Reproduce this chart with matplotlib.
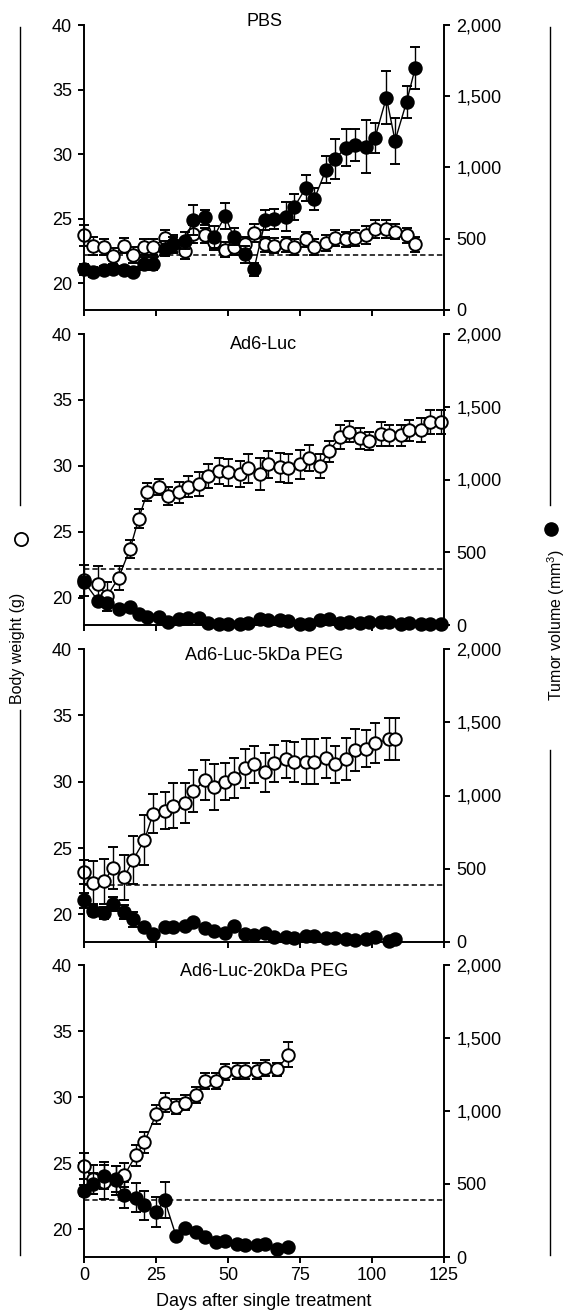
import matplotlib
matplotlib.use("Agg")
import matplotlib.pyplot as plt
from matplotlib.lines import Line2D

plt.rcParams['font.family'] = ['Liberation Sans', 'DejaVu Sans']
plt.rcParams['mathtext.fontset'] = 'custom'
plt.rcParams['mathtext.rm'] = 'Liberation Sans'
plt.rcParams['font.size'] = 13

# ---- data ----
titles = ['PBS', 'Ad6-Luc', 'Ad6-Luc-5kDa PEG', 'Ad6-Luc-20kDa PEG']
x_ticks = [0, 25, 50, 75, 100, 125]
weight_ticks = [20, 25, 30, 35, 40]
tumor_ticks = [0, 500, 1000, 1500, 2000]
tumor_tick_labels = ['0', '500', '1,000', '1,500', '2,000']
dash_weight = 22.2

# PBS
pbs_days = [0, 3, 7, 10, 14, 17, 21, 24, 28, 31, 35, 38, 42, 45, 49, 52, 56, 59,
            63, 66, 70, 73, 77, 80, 84, 87, 91, 94, 98, 101, 105, 108, 112, 115]
pbs_weight = [23.7, 22.9, 22.8, 22.1, 22.9, 22.2, 22.8, 22.8, 23.5, 23.0, 22.5, 23.8,
              23.7, 23.2, 22.6, 22.8, 23.0, 23.9, 23.0, 22.9, 23.0, 22.8, 23.4, 22.8,
              23.1, 23.5, 23.4, 23.5, 23.7, 24.2, 24.2, 24.0, 23.7, 23.0]
pbs_weight_err = [0.8, 0.7, 0.6, 0.6, 0.6, 0.6, 0.6, 0.6, 0.6, 0.7, 0.6, 0.7,
                  0.6, 0.6, 0.6, 0.6, 0.6, 0.7, 0.6, 0.6, 0.6, 0.6, 0.6, 0.6,
                  0.6, 0.6, 0.6, 0.6, 0.7, 0.7, 0.7, 0.6, 0.6, 0.6]
pbs_tumor = [285, 265, 278, 286, 280, 270, 326, 326, 431, 460, 487, 634, 650, 512,
             658, 514, 390, 285, 632, 640, 655, 723, 856, 779, 984, 1058, 1140, 1158,
             1147, 1205, 1491, 1188, 1460, 1698]
pbs_tumor_err = [40, 35, 30, 30, 30, 30, 45, 45, 50, 50, 60, 105, 55, 80, 90, 60,
                 60, 45, 70, 70, 100, 90, 90, 80, 95, 140, 130, 110, 185, 105, 185,
                 162, 115, 146]

# Ad6-Luc
luc_days = [0, 5, 8, 12, 16, 19, 22, 26, 29, 33, 36, 40, 43, 47, 50, 54, 57, 61,
            64, 68, 71, 75, 78, 82, 85, 89, 92, 96, 99, 103, 106, 110, 113, 117, 120, 124]
luc_weight = [21.3, 21.0, 20.1, 21.5, 23.7, 26.0, 28.0, 28.4, 27.7, 28.0, 28.4, 28.6,
              29.2, 29.6, 29.5, 29.4, 29.8, 29.4, 30.1, 29.9, 29.8, 30.1, 30.6, 30.0,
              31.1, 32.2, 32.6, 32.1, 31.9, 32.4, 32.3, 32.3, 32.7, 32.7, 33.3, 33.3]
luc_weight_err = [1.2, 1.4, 1.1, 0.9, 0.7, 0.7, 0.7, 0.6, 0.7, 0.8, 0.8, 0.9,
                  0.9, 1.0, 1.0, 1.0, 1.1, 1.2, 1.0, 1.1, 1.1, 1.1, 1.0, 0.9,
                  0.8, 0.9, 0.8, 0.8, 0.7, 0.9, 0.8, 0.8, 0.8, 0.9, 0.9, 0.9]
luc_tumor = [298, 163, 149, 113, 124, 75, 57, 54, 20, 44, 50, 50, 11, 7, 7, 5, 11,
             41, 34, 34, 27, 7, 7, 34, 41, 11, 18, 11, 18, 18, 18, 7, 11, 7, 7, 5]
luc_tumor_err = [30, 25, 25, 20, 20, 15, 10, 10, 8, 8, 8, 8, 5, 5, 5, 5, 5,
                 8, 8, 8, 8, 5, 5, 8, 8, 5, 5, 5, 5, 5, 5, 5, 5, 5, 5, 5]

# Ad6-Luc-5kDa PEG
peg5_days = [0, 3, 7, 10, 14, 17, 21, 24, 28, 31, 35, 38, 42, 45, 49, 52, 56, 59,
             63, 66, 70, 73, 77, 80, 84, 87, 91, 94, 98, 101, 106, 108]
peg5_weight = [23.2, 22.4, 22.5, 23.5, 22.8, 24.1, 25.6, 27.6, 27.8, 28.2, 28.4, 29.3,
               30.1, 29.6, 30.0, 30.3, 31.0, 31.3, 30.7, 31.4, 31.7, 31.5, 31.5, 31.5,
               31.8, 31.3, 31.7, 32.4, 32.5, 32.9, 33.2, 33.2]
peg5_weight_err = [0.9, 1.6, 1.7, 1.6, 1.7, 1.8, 1.9, 1.5, 1.4, 1.7, 1.5, 1.6,
                   1.5, 1.7, 1.4, 1.5, 1.5, 1.4, 1.5, 1.4, 1.4, 1.5, 1.7, 1.7,
                   1.5, 1.4, 1.6, 1.6, 1.4, 1.5, 1.6, 1.6]
peg5_tumor = [284, 215, 198, 260, 205, 155, 103, 55, 103, 100, 110, 136, 97, 78, 60,
              106, 53, 45, 64, 37, 34, 25, 41, 41, 30, 30, 23, 14, 18, 34, 7, 23]
peg5_tumor_err = [50, 40, 40, 50, 50, 50, 30, 20, 20, 20, 20, 20, 15, 15, 10,
                  15, 10, 10, 10, 8, 8, 8, 8, 8, 8, 8, 5, 5, 5, 8, 5, 5]

# Ad6-Luc-20kDa PEG
peg20_days = [0, 3, 7, 11, 14, 18, 21, 25, 28, 32, 35, 39, 42, 46, 49, 53, 56, 60,
              63, 67, 71]
peg20_weight = [24.8, 23.8, 23.6, 23.8, 24.1, 25.6, 26.6, 28.7, 29.6, 29.3, 29.6,
                30.2, 31.2, 31.2, 31.9, 32.0, 32.0, 32.0, 32.2, 32.1, 33.2]
peg20_weight_err = [1.0, 1.1, 1.3, 1.0, 0.9, 0.8, 0.8, 0.7, 0.7, 0.6, 0.6, 0.6,
                    0.6, 0.6, 0.6, 0.6, 0.6, 0.6, 0.6, 0.5, 0.95]
peg20_tumor = [455, 503, 558, 524, 423, 407, 354, 308, 389, 142, 201, 171, 137, 103,
               110, 87, 80, 85, 91, 53, 69]
peg20_tumor_err = [40, 70, 90, 100, 90, 100, 100, 100, 125, 20, 20, 20, 20, 15,
                   15, 15, 15, 15, 15, 15, 15]

panels = [
    (pbs_days, pbs_weight, pbs_weight_err, pbs_tumor, pbs_tumor_err),
    (luc_days, luc_weight, luc_weight_err, luc_tumor, luc_tumor_err),
    (peg5_days, peg5_weight, peg5_weight_err, peg5_tumor, peg5_tumor_err),
    (peg20_days, peg20_weight, peg20_weight_err, peg20_tumor, peg20_tumor_err),
]

# axes boxes in pixels: (top, bottom), and title offset below the top
W, H = 566, 1311
ax_left, ax_right = 84, 444
boxes = [(25, 310), (334, 625), (649, 942), (965, 1257)]
title_offsets = [-3, 11, 6, 6]

fig = plt.figure(figsize=(W / 100, H / 100), dpi=100)

err_kw = dict(color='black', lw=1.0, elinewidth=1.0, capsize=3.5, capthick=1.0,
              ms=9, mew=1.4, clip_on=False)

for i, (title, (days, wt, wt_err, tv, tv_err)) in enumerate(zip(titles, panels)):
    top, bottom = boxes[i]
    ax = fig.add_axes([ax_left / W, 1 - bottom / H, (ax_right - ax_left) / W,
                       (bottom - top) / H])
    ax.set_xlim(0, 125)
    ax.set_ylim(17.92, 40)
    ax.axhline(dash_weight, color='black', lw=1.1, ls=(0, (3.5, 2)))
    ax.errorbar(days, wt, yerr=wt_err, fmt='-o', mfc='white', mec='black', **err_kw)

    ax2 = ax.twinx()
    ax2.set_ylim(0, 2000)
    ax2.errorbar(days, tv, yerr=tv_err, fmt='-o', mfc='black', mec='black', **err_kw)

    for s in ['top', 'right']:
        ax.spines[s].set_visible(False)
    for s in ['top', 'left', 'bottom']:
        ax2.spines[s].set_visible(False)
    for a in (ax, ax2):
        for s in a.spines.values():
            s.set_linewidth(1.4)
        a.tick_params(width=1.4, length=4.5, labelsize=13)

    ax.set_yticks(weight_ticks)
    ax2.set_yticks(tumor_ticks)
    ax2.set_yticklabels(tumor_tick_labels)
    ax2.tick_params(axis='y', pad=4.5)
    ax.set_xticks(x_ticks)
    ax.tick_params(axis='y', pad=4)
    ax.tick_params(axis='x', pad=3)
    if i == len(titles) - 1:
        ax.set_xlabel('Days after single treatment', fontsize=13, labelpad=6)
    else:
        ax.set_xticklabels([])

    fig.text(0.5 * (ax_left + ax_right) / W, 1 - (top + title_offsets[i]) / H, title,
             ha='center', va='center', fontsize=13)

# outer brackets and axis titles
lx, rx = 20 / W, 550 / W
for x, segs in [(lx, [(27, 505), (710, 1255)]), (rx, [(27, 505), (750, 1255)])]:
    for y0, y1 in segs:
        fig.add_artist(Line2D([x, x], [1 - y0 / H, 1 - y1 / H], color='black', lw=1.0))

fig.text(18 / W, 1 - 648 / H, 'Body weight (g)', rotation=90, ha='center',
         va='center', fontsize=11.5)
fig.add_artist(Line2D([21 / W], [1 - 539 / H], marker='o', ms=9.5, mfc='white',
                      mec='black', mew=1.3))
fig.text(556 / W, 1 - 625 / H, 'Tumor volume (mm$^3$)', rotation=90, ha='center',
         va='center', fontsize=11.5)
fig.add_artist(Line2D([551 / W], [1 - 529 / H], marker='o', ms=9.5, mfc='black',
                      mec='black'))

fig.savefig('out.png', dpi=100)
